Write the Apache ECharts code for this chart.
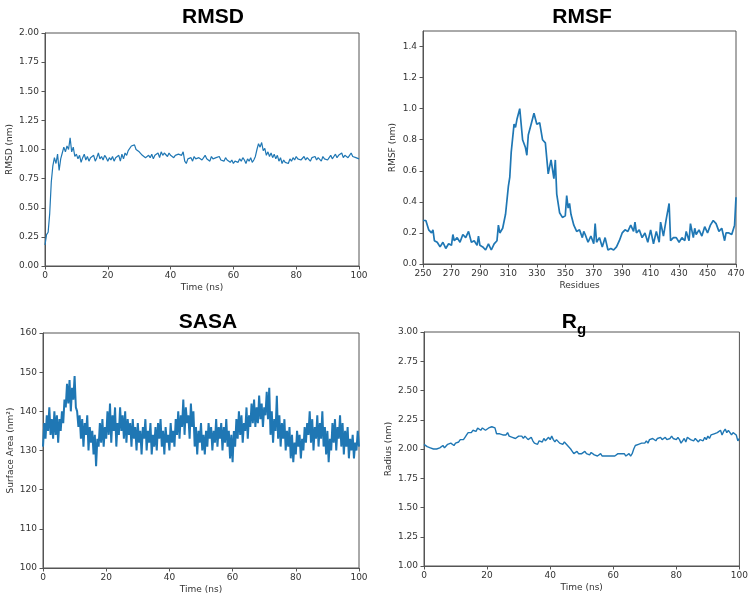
<!DOCTYPE html>
<html><head><meta charset="utf-8">
<script src="https://cdn.jsdelivr.net/npm/echarts@6/dist/echarts.min.js"></script>
<style>html,body{margin:0;padding:0;background:#fff}#c{width:751px;height:599px}</style>
</head><body><div id="c"></div>
<script>
// RMSD (nm), evenly sampled over 0–100 ns
var rmsdValues = [0.18,0.27,0.29,0.45,0.72,0.86,0.93,0.88,0.96,0.82,0.92,
0.97,1.02,0.98,1.03,1.0,1.1,0.98,1.02,0.94,0.96,
0.92,0.95,0.89,0.93,0.96,0.91,0.94,0.9,0.93,0.92,0.95,0.9,0.93,0.97,0.92,0.94,0.91,0.95,0.93,0.9,
0.93,0.91,0.94,0.9,0.93,0.92,0.95,0.9,0.96,0.92,0.97,0.95,0.99,1.0,
1.03,1.02,1.04,1.0,1.01,0.98,0.97,0.95,0.96,0.93,0.92,0.95,0.93,0.96,0.92,0.95,
0.94,0.97,0.93,0.98,0.95,0.97,0.96,0.94,0.97,0.95,0.96,0.93,0.95,0.94,0.96,0.97,0.95,0.98,
0.9,0.88,0.92,0.91,0.93,0.9,0.94,0.92,0.91,0.93,0.94,0.91,0.92,0.95,0.92,0.93,0.9,0.94,0.92,0.91,0.93,0.92,0.94,0.91,0.92,0.9,0.93,0.91,0.92,0.89,0.91,0.88,
0.9,0.91,0.89,0.92,0.9,0.93,0.91,0.88,0.92,0.9,0.93,0.89,0.91,0.94,
1.0,1.05,1.02,1.06,0.99,1.01,0.95,0.98,
0.94,0.97,0.93,0.96,0.92,0.95,0.9,0.93,0.88,0.91,0.89,0.9,0.88,0.92,
0.9,0.93,0.91,0.94,0.92,0.93,0.91,0.92,0.94,0.91,0.93,0.92,0.9,0.93,0.92,0.94,0.91,0.93,0.92,0.9,0.94,0.92,0.93,0.91,
0.93,0.95,0.92,0.94,0.96,0.93,0.95,0.94,0.97,0.93,0.95,0.96,0.93,0.95,0.97,0.94,0.95,0.93,0.94,0.92];

// RMSF (nm) per residue
var rmsfResidues = [250,252,254,256,257,258,260,262,264,266,268,270,271,272,274,276,278,280,282,284,286,288,289,290,292,294,296,298,300,302,303,304,306,308,310,311,312,314,315,316,318,320,322,323,324,326,328,330,332,334,336,338,340,342,343,344,346,348,350,351,352,353,354,356,358,360,362,363,364,366,368,370,371,372,374,376,378,380,382,384,386,388,390,392,394,396,398,399,400,402,404,406,408,410,412,414,416,417,419,421,423,424,426,428,430,432,434,435,437,438,440,441,442,444,446,448,450,452,454,456,458,460,462,463,465,467,469,470];
var rmsfValues = [0.28,0.28,0.22,0.2,0.22,0.15,0.14,0.11,0.14,0.1,0.13,0.12,0.19,0.15,0.17,0.14,0.19,0.17,0.21,0.14,0.15,0.12,0.18,0.12,0.11,0.09,0.13,0.09,0.13,0.15,0.25,0.2,0.23,0.32,0.5,0.56,0.72,0.9,0.88,0.93,1.0,0.8,0.75,0.7,0.83,0.9,0.97,0.9,0.91,0.8,0.78,0.58,0.67,0.55,0.67,0.45,0.33,0.3,0.31,0.44,0.36,0.39,0.32,0.25,0.21,0.22,0.17,0.21,0.19,0.14,0.18,0.13,0.26,0.14,0.17,0.11,0.17,0.09,0.1,0.09,0.11,0.15,0.2,0.22,0.21,0.25,0.21,0.27,0.2,0.22,0.17,0.2,0.14,0.22,0.13,0.21,0.14,0.27,0.18,0.29,0.39,0.15,0.17,0.17,0.14,0.17,0.15,0.21,0.15,0.26,0.17,0.23,0.19,0.22,0.18,0.24,0.2,0.25,0.28,0.26,0.21,0.23,0.15,0.2,0.2,0.19,0.25,0.43];

// SASA (nm²), evenly sampled over 0–100 ns
var sasaValues = [131,137,133,139,135,141,134,138,133,140,
134,139,132,138,135,140,137,143,141,147,
142,148,140,146,143,149,141,140,136,139,
133,138,131,137,134,139,130,136,132,135,
129,134,126,133,131,137,132,138,131,136,
133,140,134,142,132,139,135,141,131,137,
134,141,135,139,133,140,132,138,134,137,
131,138,133,136,130,137,132,135,129,136,
133,138,130,135,132,137,129,134,131,136,
130,137,133,138,131,135,129,136,132,134,
130,137,132,135,131,138,134,140,133,139,
136,143,134,141,137,139,133,142,136,140,
131,136,129,135,132,137,130,134,129,135,
131,137,133,136,130,135,132,138,131,136,
133,137,130,136,132,138,131,135,128,134,
127,135,131,138,133,140,134,139,132,137,
135,141,133,139,136,142,137,143,136,141,
137,144,138,142,136,141,139,145,138,146,
134,140,132,138,135,144,133,139,131,137,
133,138,130,135,131,136,128,134,127,132,
129,135,131,134,128,133,130,136,132,137,
134,140,132,138,130,136,133,139,131,137,
133,140,131,136,129,135,127,133,130,137,
132,138,130,136,133,139,131,137,129,135,
131,136,128,133,130,134,128,132,130,135,
131];

// Radius of gyration (nm), evenly sampled over 0–100 ns
var rgValues = [2.04,2.03,2.02,2.03,2.01,2.02,2.0,1.99,2.0,1.99,2.01,
2.0,2.03,2.01,2.02,2.04,2.03,2.05,2.04,2.03,2.05,
2.04,2.06,2.08,2.07,2.08,2.1,2.12,2.14,2.15,2.14,
2.16,2.17,2.15,2.18,2.17,2.16,2.18,2.17,2.16,2.17,
2.18,2.17,2.19,2.19,2.18,2.13,2.14,2.13,2.14,2.12,
2.13,2.12,2.14,2.11,2.12,2.1,2.11,2.09,2.1,2.11,
2.1,2.11,2.09,2.11,2.1,2.08,2.09,2.1,2.07,2.05,
2.06,2.04,2.07,2.08,2.06,2.09,2.07,2.08,2.1,2.08,
2.11,2.08,2.06,2.08,2.07,2.05,2.06,2.04,2.06,2.05,
2.03,2.02,2.0,1.98,1.96,1.97,1.98,1.96,1.97,1.96,
1.97,1.98,1.96,1.97,1.95,1.97,1.96,1.95,1.96,1.94,
1.95,1.96,1.94,1.95,1.94,1.95,1.94,1.95,1.94,1.95,
1.94,1.95,1.96,1.97,1.96,1.95,1.96,1.94,1.95,1.96,
1.94,1.96,2.0,2.03,2.02,2.04,2.03,2.05,2.06,2.05,
2.07,2.05,2.08,2.07,2.09,2.08,2.07,2.09,2.08,2.1,
2.08,2.09,2.1,2.08,2.07,2.09,2.11,2.09,2.1,2.08,
2.1,2.08,2.05,2.07,2.09,2.06,2.1,2.11,2.08,2.09,
2.07,2.09,2.08,2.06,2.08,2.09,2.07,2.1,2.08,2.11,
2.09,2.12,2.11,2.13,2.12,2.14,2.13,2.16,2.12,2.15,
2.17,2.14,2.16,2.15,2.12,2.14,2.13,2.12,2.07,2.09];

var rmsfTicks = [250,270,290,310,330,350,370,390,410,430,450,470];
var timeStart = 0, timeEnd = 100;

function timeSeries(vals){
  var n = vals.length, out = [];
  for (var i = 0; i < n; i++) out.push([timeStart + (timeEnd - timeStart) * i / (n - 1), vals[i]]);
  return out;
}
function pairs(xs, ys){
  var out = [];
  for (var i = 0; i < Math.min(xs.length, ys.length); i++) out.push([xs[i], ys[i]]);
  return out;
}

var FONT = 'DejaVu Sans';
var AX = '#555';
var LBL = '#333';
var BLUE = '#1f77b4';

function xAxis(idx, name, min, max, interval, extra){
  var a = {
    type: 'value', gridIndex: idx, min: min, max: max, interval: interval,
    name: name, nameLocation: 'middle', nameGap: 17,
    nameTextStyle: {fontFamily: FONT, fontSize: 9, color: LBL},
    axisLine: {show: true, onZero: false, lineStyle: {color: AX, width: 1}},
    axisTick: {show: true, inside: false, length: 3.5, lineStyle: {color: AX}},
    axisLabel: {fontFamily: FONT, fontSize: 9, color: LBL, margin: 5},
    splitLine: {show: false}
  };
  if (extra) { for (var k in extra) a[k] = Object.assign({}, a[k] || {}, extra[k]); }
  return a;
}
function yAxis(idx, name, min, max, interval, dec, gap){
  return {
    type: 'value', gridIndex: idx, min: min, max: max, interval: interval,
    name: name, nameLocation: 'middle', nameGap: gap,
    nameTextStyle: {fontFamily: FONT, fontSize: 9, color: LBL},
    axisLine: {show: true, onZero: false, lineStyle: {color: AX, width: 1}},
    axisTick: {show: true, inside: false, length: 3.5, lineStyle: {color: AX}},
    axisLabel: {fontFamily: FONT, fontSize: 9, color: LBL, margin: 6, showMaxLabel: dec === 1 ? false : true,
      formatter: function(v){ return v.toFixed(dec); }},
    splitLine: {show: false}
  };
}

var grids = [
  {left: 45, top: 33, width: 314, height: 233},
  {left: 423, top: 31, width: 313, height: 233},
  {left: 43, top: 333, width: 316, height: 235},
  {left: 424, top: 332, width: 316, height: 234}
];
grids.forEach(function(g){ g.show = true; g.borderColor = AX; g.borderWidth = 1; g.backgroundColor = 'transparent'; });

var titleFont = 'bold 21px "Liberation Sans"';
var option = {
  animation: false,
  backgroundColor: '#fff',
  grid: grids,
  xAxis: [
    xAxis(0, 'Time (ns)', 0, 100, 20),
    xAxis(1, 'Residues', 250, 470, 20, {axisLabel: {customValues: rmsfTicks}, axisTick: {customValues: rmsfTicks}}),
    xAxis(2, 'Time (ns)', 0, 100, 20),
    xAxis(3, 'Time (ns)', 0, 100, 20)
  ],
  yAxis: [
    yAxis(0, 'RMSD (nm)', 0, 2, 0.25, 2, 31),
    yAxis(1, 'RMSF (nm)', 0, 1.5, 0.2, 1, 26),
    yAxis(2, 'Surface Area (nm²)', 100, 160, 10, 0, 28),
    yAxis(3, 'Radius (nm)', 1, 3, 0.25, 2, 31)
  ],
  series: [
    {type: 'line', xAxisIndex: 0, yAxisIndex: 0, data: timeSeries(rmsdValues), showSymbol: false, lineStyle: {color: BLUE, width: 1.2}},
    {type: 'line', xAxisIndex: 1, yAxisIndex: 1, data: pairs(rmsfResidues, rmsfValues), showSymbol: false, lineStyle: {color: BLUE, width: 1.7}},
    {type: 'line', xAxisIndex: 2, yAxisIndex: 2, data: timeSeries(sasaValues), showSymbol: false, lineStyle: {color: BLUE, width: 2}},
    {type: 'line', xAxisIndex: 3, yAxisIndex: 3, data: timeSeries(rgValues), showSymbol: false, lineStyle: {color: BLUE, width: 1.4}}
  ],
  graphic: [
    {type: 'text', x: 213, y: 17, style: {text: 'RMSD', font: titleFont, fill: '#000', textAlign: 'center', textVerticalAlign: 'middle'}},
    {type: 'text', x: 582, y: 17, style: {text: 'RMSF', font: titleFont, fill: '#000', textAlign: 'center', textVerticalAlign: 'middle'}},
    {type: 'text', x: 208, y: 322, style: {text: 'SASA', font: titleFont, fill: '#000', textAlign: 'center', textVerticalAlign: 'middle'}},
    {type: 'text', x: 577, y: 322, style: {text: 'R', font: titleFont, fill: '#000', textAlign: 'right', textVerticalAlign: 'middle'}},
    {type: 'text', x: 577, y: 330, style: {text: 'g', font: 'bold 15px "Liberation Sans"', fill: '#000', textAlign: 'left', textVerticalAlign: 'middle'}}
  ]
};
var chart = echarts.init(document.getElementById('c'), null, {renderer: 'canvas'});
chart.setOption(option);
</script>
</body></html>
